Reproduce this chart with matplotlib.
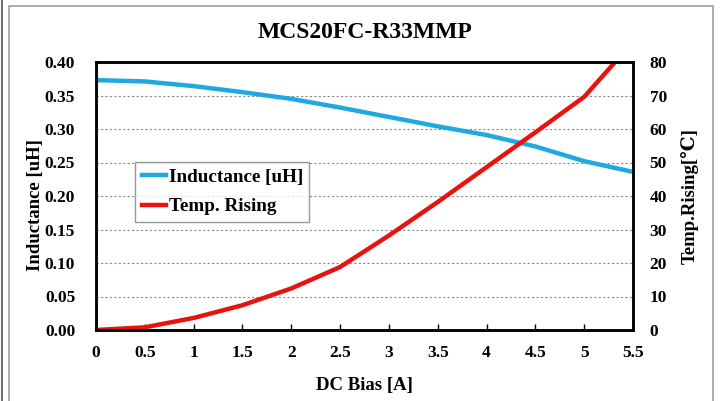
import matplotlib
matplotlib.use("Agg")
import matplotlib.pyplot as plt
from matplotlib.patches import Rectangle
from matplotlib.lines import Line2D

# data
dc_bias = [0, 0.5, 1, 1.5, 2, 2.5, 3, 3.5, 4, 4.5, 5, 5.5]
inductance = [0.373, 0.371, 0.364, 0.355, 0.345, 0.332, 0.318, 0.304, 0.291, 0.274, 0.252, 0.236]
temp_rise = [0, 0.8, 3.6, 7.4, 12.4, 18.8, 28.2, 38.2, 48.6, 59.0, 69.6, 86.0]

x_ticks = [0, 0.5, 1, 1.5, 2, 2.5, 3, 3.5, 4, 4.5, 5, 5.5]
x_labels = ["0", "0.5", "1", "1.5", "2", "2.5", "3", "3.5", "4", "4.5", "5", "5.5"]

plt.rcParams['font.family'] = ['Liberation Serif', 'DejaVu Serif', 'DejaVu Sans']
plt.rcParams['font.weight'] = 'bold'

fig = plt.figure(figsize=(7.2, 4.01), dpi=100)
ax = fig.add_axes([96/720, 71/401, 537/720, 268/401])

# outer frame like the pasted excel chart
fig.patches.append(Rectangle((9/720, -0.01), 704/720, 1.0 - 2/401, transform=fig.transFigure,
                             fill=False, edgecolor='#a0a0a0', linewidth=1.2))
fig.lines.append(Line2D([1.5/720, 1.5/720], [0, 1], transform=fig.transFigure,
                        color='#707070', linewidth=1.5))

l1, = ax.plot(dc_bias, inductance, color='#1fa9e1', linewidth=3.2, label='Inductance [uH]')
ax.set_xlim(0, 5.5)
ax.set_ylim(0, 0.40)
ax.set_yticks([0, 0.05, 0.10, 0.15, 0.20, 0.25, 0.30, 0.35, 0.40])
ax.set_yticklabels(['%.2f' % v for v in [0, 0.05, 0.10, 0.15, 0.20, 0.25, 0.30, 0.35, 0.40]])
ax.set_xticks(x_ticks)
ax.set_xticklabels(x_labels)
for v in [0.05, 0.10, 0.15, 0.20, 0.25, 0.30, 0.35]:
    ax.axhline(v, color='#8a8a8a', linestyle=(0, (2, 2)), linewidth=0.8, zorder=0)

ax2 = ax.twinx()
l2, = ax2.plot(dc_bias, temp_rise, color='#e8130f', linewidth=3.2, label='Temp. Rising')
ax2.set_ylim(0, 80)
ax2.set_yticks(range(0, 81, 10))

for a in (ax, ax2):
    for s in a.spines.values():
        s.set_linewidth(1.8)
        s.set_color('black')
ax.tick_params(axis='x', direction='in', length=4, width=1, labelsize=12.5, pad=11)
ax.tick_params(axis='y', length=0, labelsize=12.5, pad=15)
ax2.tick_params(axis='y', length=0, labelsize=12.5, pad=12)

ax.set_xlabel('DC Bias [A]', fontsize=13.5, fontweight='bold', labelpad=11)
ax.set_ylabel('Inductance [uH]', fontsize=13.5, fontweight='bold')
ax.yaxis.set_label_coords(-0.097, 0.466)
ax2.set_ylabel('Temp.Rising[\u2103]', fontsize=13.5, fontweight='bold')
ax2.yaxis.set_label_coords(1.089, 0.5)
fig.text(365/720, 1 - 32/401, 'MCS20FC-R33MMP', ha='center', va='center',
         fontsize=17, fontweight='bold')

leg = ax2.legend(handles=[l1, l2], loc='upper left', bbox_to_anchor=(0.0726, 0.627),
                 borderaxespad=0, fontsize=13.8, frameon=True, fancybox=False,
                 handlelength=1.25, handletextpad=0.15, borderpad=0.35, labelspacing=0.62)
leg.get_frame().set_edgecolor('#808080')
leg.get_frame().set_linewidth(1.0)

fig.savefig('out.png', dpi=100)
